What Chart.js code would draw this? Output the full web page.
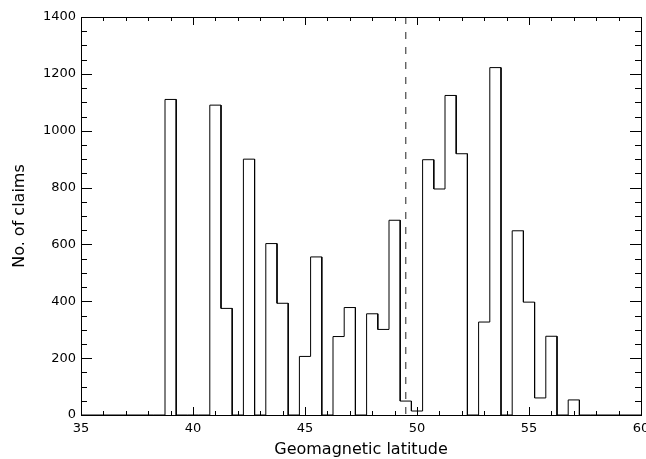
<!DOCTYPE html>
<html><head><meta charset="utf-8">
<script src="https://cdn.jsdelivr.net/npm/chart.js@4"></script>
<style>html,body{margin:0;padding:0;background:#fff}#wrap{width:646px;height:459px}</style>
</head><body><div id="wrap"><canvas id="c" width="646" height="459"></canvas></div>
<script>
// Histogram bins (centre latitude) and counts
const binCenters = [38.5,39.0,39.5,40.0,40.5,41.0,41.5,42.0,42.5,43.0,43.5,44.0,44.5,45.0,45.5,46.0,46.5,47.0,47.5,48.0,48.5,49.0,49.5,50.0,50.5,51.0,51.5,52.0,52.5,53.0,53.5,54.0,54.5,55.0,55.5,56.0,56.5,57.0,57.5];
const counts     = [0,1110,0,0,0,1090,375,0,900,0,603,393,0,206,556,0,276,378,0,356,301,685,49,14,898,795,1124,919,0,327,1222,0,648,397,60,277,0,53,0];
const binWidth = 0.5;
const xTicks = [35,40,45,50,55,60];
const yTicks = [0,200,400,600,800,1000,1200,1400];
const xMinorStep = 1;
const yMinorStep = 50;
const dashX = 49.5;
const xRange = [35,60];
const yRange = [0,1400];
const xLabel = 'Geomagnetic latitude';
const yLabel = 'No. of claims';

const FONT = '"DejaVu Sans", "Liberation Sans", Arial, sans-serif';

// build step outline from the bins
const stepPts = [{x:xRange[0], y:0}];
binCenters.forEach((c,i)=>{
  stepPts.push({x:c-binWidth/2, y:counts[i]});
  stepPts.push({x:c+binWidth/2, y:counts[i]});
});
stepPts.push({x:xRange[1], y:0});

const frameTicks = {
  id:'frameTicks',
  afterDatasetsDraw(chart){
    const {ctx, chartArea:a, scales:{x,y}} = chart;
    ctx.save();
    ctx.strokeStyle='#000'; ctx.lineWidth=1;
    ctx.beginPath();
    for(let v=xRange[0]; v<=xRange[1]+1e-9; v+=xMinorStep){
      const px=Math.round(x.getPixelForValue(v))+0.5;
      const L = xTicks.includes(v)?8:4;
      ctx.moveTo(px,a.bottom); ctx.lineTo(px,a.bottom-L);
      ctx.moveTo(px,a.top); ctx.lineTo(px,a.top+L);
    }
    for(let v=yRange[0]; v<=yRange[1]+1e-9; v+=yMinorStep){
      const py=Math.round(y.getPixelForValue(v))+0.5;
      const L = yTicks.includes(v)?11:6;
      ctx.moveTo(a.left,py); ctx.lineTo(a.left+L,py);
      ctx.moveTo(a.right,py); ctx.lineTo(a.right-L,py);
    }
    ctx.stroke();
    ctx.strokeRect(Math.round(a.left)+0.5, Math.round(a.top)+0.5, Math.round(a.right-a.left), Math.round(a.bottom-a.top));
    ctx.restore();
  }
};

new Chart(document.getElementById('c'), {
  type:'line',
  data:{datasets:[
    {data:stepPts, borderColor:'#000', borderWidth:1, pointRadius:0, fill:false, tension:0},
    {data:[{x:dashX,y:yRange[1]},{x:dashX,y:yRange[0]}], borderColor:'#222', borderWidth:1, borderDash:[7,8], pointRadius:0, fill:false}
  ]},
  options:{
    responsive:false, animation:false, devicePixelRatio:1,
    layout:{padding:{left:0,right:5,top:17,bottom:0}},
    plugins:{legend:{display:false}, tooltip:{enabled:false}},
    scales:{
      x:{type:'linear', min:xRange[0], max:xRange[1],
        afterBuildTicks:s=>{s.ticks=xTicks.map(v=>({value:v}));},
        grid:{display:false, drawTicks:false}, border:{display:false},
        ticks:{color:'#000', font:{family:FONT,size:13}, padding:6, maxRotation:0, autoSkip:false, callback:v=>String(v)},
        title:{display:true, text:xLabel, color:'#000', font:{family:FONT,size:16}, padding:{top:0,bottom:0}},
        afterFit:s=>{s.height=44; s.paddingLeft=0; s.paddingRight=0;}
      },
      y:{type:'linear', min:yRange[0], max:yRange[1],
        afterBuildTicks:s=>{s.ticks=yTicks.map(v=>({value:v}));},
        grid:{display:false, drawTicks:false}, border:{display:false},
        ticks:{color:'#000', font:{family:FONT,size:13}, padding:5, autoSkip:false, callback:v=>String(v)},
        title:{display:true, text:yLabel, color:'#000', font:{family:FONT,size:16}, padding:{top:10,bottom:0}},
        afterFit:s=>{s.width=81; s.paddingTop=0; s.paddingBottom=0;}
      }
    }
  },
  plugins:[frameTicks]
});
</script></body></html>
